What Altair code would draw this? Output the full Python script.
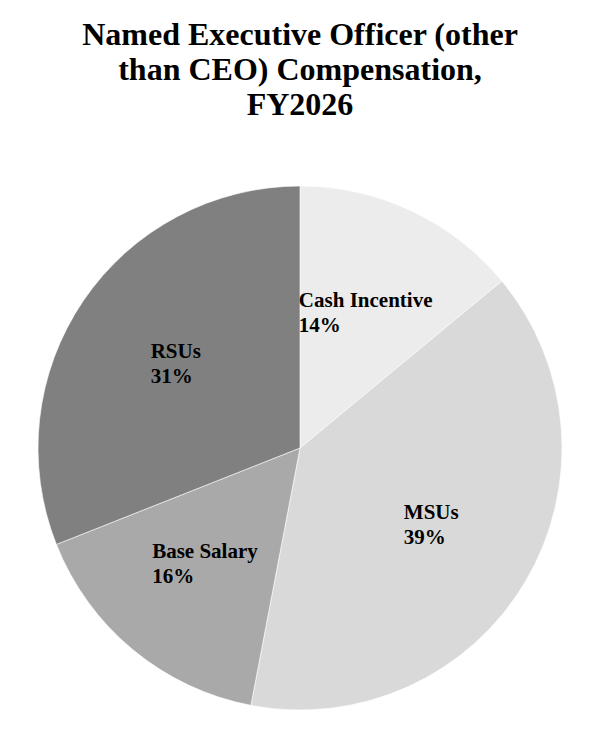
import altair as alt
import pandas as pd

categories = ["Cash Incentive", "MSUs", "Base Salary", "RSUs"]
shares = [14, 39, 16, 31]
colors = ["#ececec", "#d9d9d9", "#a9a9a9", "#808080"]
title_lines = ["Named Executive Officer (other", "than CEO) Compensation,", "FY2026"]

df = pd.DataFrame({"category": categories, "value": shares, "order": list(range(len(categories)))})

FONT = "Liberation Serif"
W, H = 584, 610
CX, CY = 292, 316
R = 262
LR = 150

base = alt.Chart(df)

arc = base.mark_arc(radius=R, stroke="#ffffff", strokeWidth=0.6).encode(
    theta=alt.Theta("value:Q", stack=True),
    order=alt.Order("order:Q"),
    color=alt.Color("category:N", scale=alt.Scale(domain=categories, range=colors), legend=None),
    x=alt.value(CX),
    y=alt.value(CY),
)

labels = base.transform_window(
    cum="sum(value)", sort=[alt.SortField("order")], frame=[None, 0]
).transform_joinaggregate(
    total="sum(value)"
).transform_calculate(
    mid="(datum.cum - datum.value/2) / datum.total * 2 * PI",
    lab="datum.category + '\\n' + round(datum.value / datum.total * 100) + '%'",
    nup="length(replace(datum.category, regexp('[^A-Z]', 'g'), ''))",
    halfw="((length(datum.category) - datum.nup) * 8.5 + datum.nup * 14) / 2",
    lx=f"{CX} + {LR} * sin(datum.mid) - datum.halfw",
    ly=f"{CY} - {LR} * cos(datum.mid) - 5.5",
).mark_text(
    font=FONT, fontSize=21, fontWeight="bold", color="#000000",
    align="left", baseline="alphabetic", lineBreak="\n", lineHeight=25,
).encode(
    x=alt.X("lx:Q", scale=None, axis=None),
    y=alt.Y("ly:Q", scale=None, axis=None),
    text="lab:N",
)

chart = alt.layer(arc, labels).properties(
    width=W, height=H,
    padding={"top": 11, "left": 0, "right": 0, "bottom": 0},
    title=alt.TitleParams(
        text=title_lines, font=FONT, fontSize=32, fontWeight="bold", color="#000000",
        lineHeight=35, anchor="middle", offset=10,
    ),
).configure_view(strokeWidth=0, stroke=None)

chart.save("out.html", embed_options={"renderer": "svg", "actions": False})
